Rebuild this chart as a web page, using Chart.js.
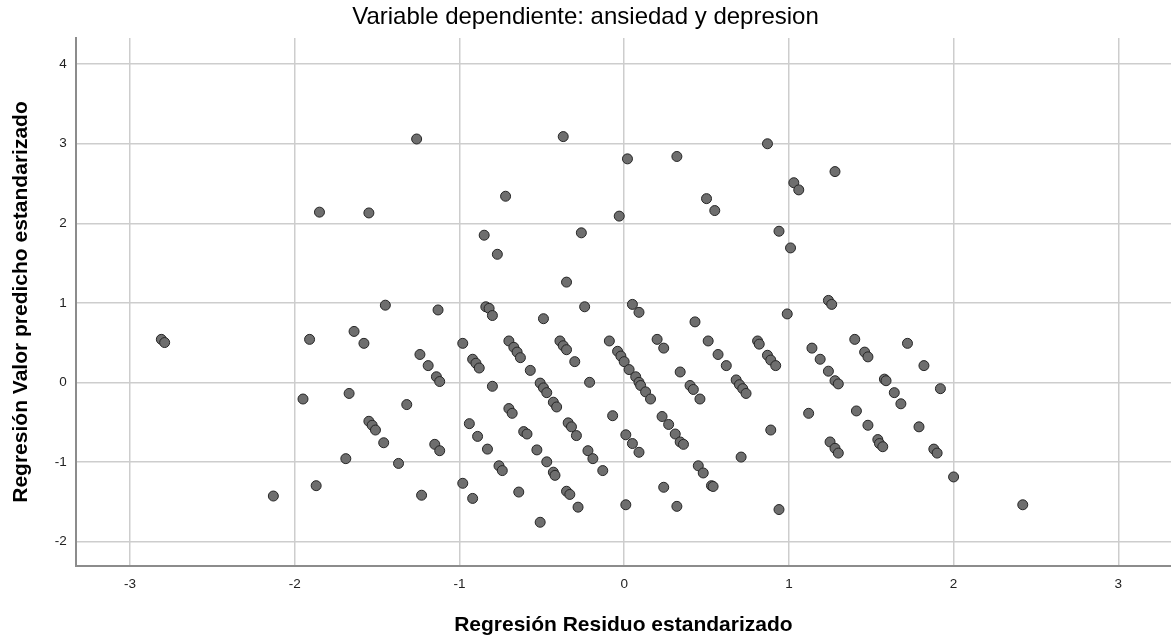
<!DOCTYPE html>
<html>
<head>
<meta charset="utf-8">
<title>Variable dependiente: ansiedad y depresion</title>
<script src="https://cdn.jsdelivr.net/npm/chart.js@4.4.1/dist/chart.umd.min.js"></script>
<style>
    html, body { margin: 0; padding: 0; background: #ffffff; }
    #wrap { width: 1171px; height: 641px; position: relative; }
</style>
</head>
<body>
<div id="wrap"><canvas id="scatterChart"></canvas></div>
<script>
// Regression scatter: standardized residual (x) vs standardized predicted value (y)

const chartTitle = 'Variable dependiente: ansiedad y depresion';
const xTitle = 'Regresión Residuo estandarizado';
const yTitle = 'Regresión Valor predicho estandarizado';

const xTicks = [-3, -2, -1, 0, 1, 2, 3];
const yTicks = [-2, -1, 0, 1, 2, 3, 4];

// standardized residuals
const residuals = [
    -1.26, -0.37, 0.02, 0.32, -0.72, -1.55, -1.85, -0.03, -0.85, -0.26,
    -0.77, -0.35, 0.87, 1.28, 1.03, 1.06, 0.50, 0.55, 0.94, 1.01,
    -2.81, -2.79, -2.13,
    -1.45, -1.13, -1.91, -1.64, -1.58, -1.24, -1.19, -1.14, -1.12, -1.95,
    -1.67, -1.32, -1.55, -1.53, -1.51, -1.46, -1.15, -1.12, -1.69, -1.37,
    -1.87, -1.23,
    -0.84, -0.82, -0.80, -0.24, -0.49, 0.05, -0.98, -0.92, -0.90, -0.88,
    -0.70, -0.67, -0.65, -0.63, -0.39, -0.37, -0.35, -0.30, -0.09, -0.04,
    -0.02, 0.00, 0.03, 0.07, 0.09, -0.57, -0.80, -0.21, -0.51, -0.49,
    -0.47, -0.43, -0.41, -0.70, -0.68, -0.07, -0.94, -0.89, -0.83, -0.61,
    -0.59, -0.34, -0.32, -0.29, -0.53, -0.47, -0.43, -0.42, -0.22, -0.19,
    -0.13, -0.76, -0.74, -0.98, -0.92, -0.64, -0.35, -0.33, -0.28, -0.51,
    0.01,
    0.09, 0.43, 0.99, 0.20, 0.24, 0.51, 0.57, 0.62, 0.81, 0.82,
    0.87, 0.89, 0.92, 1.14, 0.10, 0.13, 0.16, 0.34, 0.40, 0.42,
    0.46, 0.68, 0.70, 0.72, 0.74, 0.23, 0.27, 0.31, 0.34, 0.36,
    0.01, 0.05, 0.09, 0.45, 0.48, 0.53, 0.54, 0.71, 0.89, 1.12,
    0.24, 0.32, 0.94,
    1.24, 1.26, 1.19, 1.24, 1.28, 1.30, 1.40, 1.46, 1.48, 1.72,
    1.82, 1.58, 1.59, 1.64, 1.68, 1.92, 1.41, 1.48, 1.54, 1.55,
    1.57, 1.79, 1.25, 1.28, 1.30, 1.88, 1.90, 2.00, 2.42
];

// standardized predicted values
const predicted = [
    3.06, 3.09, 2.81, 2.84, 2.34, 2.13, 2.14, 2.09, 1.85, 1.88,
    1.61, 1.26, 3.00, 2.65, 2.51, 2.42, 2.31, 2.16, 1.90, 1.69,
    0.54, 0.50, -1.43,
    0.97, 0.91, 0.54, 0.64, 0.49, 0.35, 0.21, 0.07, 0.01, -0.21,
    -0.14, -0.28, -0.49, -0.54, -0.60, -0.76, -0.78, -0.86, -0.96, -1.02,
    -1.30, -1.42,
    0.95, 0.93, 0.84, 0.95, 0.80, 0.98, 0.49, 0.29, 0.24, 0.18,
    0.52, 0.44, 0.38, 0.31, 0.52, 0.46, 0.41, 0.26, 0.52, 0.39,
    0.33, 0.26, 0.16, 0.07, 0.00, 0.15, -0.05, 0.00, -0.01, -0.07,
    -0.13, -0.25, -0.31, -0.33, -0.39, -0.42, -0.52, -0.68, -0.84, -0.62,
    -0.65, -0.51, -0.56, -0.67, -0.85, -1.00, -1.13, -1.17, -0.86, -0.96,
    -1.11, -1.05, -1.11, -1.27, -1.46, -1.38, -1.37, -1.41, -1.57, -1.76,
    -1.54,
    0.88, 0.76, 0.86, 0.54, 0.43, 0.52, 0.35, 0.21, 0.52, 0.48,
    0.34, 0.28, 0.21, 0.43, -0.04, -0.12, -0.21, 0.13, -0.04, -0.09,
    -0.21, 0.03, -0.03, -0.08, -0.14, -0.43, -0.53, -0.65, -0.75, -0.78,
    -0.66, -0.77, -0.88, -1.05, -1.14, -1.30, -1.31, -0.94, -0.60, -0.39,
    -1.32, -1.56, -1.60,
    1.03, 0.98, 0.29, 0.14, 0.02, -0.02, 0.54, 0.38, 0.32, 0.49,
    0.21, 0.04, 0.02, -0.13, -0.27, -0.08, -0.36, -0.54, -0.72, -0.77,
    -0.81, -0.56, -0.75, -0.83, -0.89, -0.84, -0.89, -1.19, -1.54
];

const points = residuals.map((x, i) => ({ x: x, y: predicted[i] }));

const gridColor = '#cdcdcd';
const axisColor = '#8c8c8c';

new Chart(document.getElementById('scatterChart').getContext('2d'), {
    type: 'scatter',
    data: {
        datasets: [{
            label: 'casos',
            data: points,
            backgroundColor: '#6e6e6e',
            borderColor: '#262626',
            borderWidth: 1,
            pointRadius: 5,
            pointHoverRadius: 5
        }]
    },
    options: {
        responsive: true,
        maintainAspectRatio: false,
        animation: false,
        layout: { padding: 0, autoPadding: false },
        plugins: {
            legend: { display: false },
            tooltip: { enabled: false },
            title: {
                display: true,
                text: chartTitle,
                color: '#000000',
                font: { family: 'Liberation Sans', size: 24, weight: 'normal' },
                padding: { top: 3.4, bottom: 5.8 }
            }
        },
        scales: {
            x: {
                type: 'linear',
                min: -3.33,
                max: 3.32,
                afterBuildTicks: (scale) => { scale.ticks = xTicks.map(v => ({ value: v })); },
                afterFit: (scale) => {
                    scale.height = 75;
                    scale.paddingLeft = 0;
                    scale.paddingRight = 0;
                },
                grid: { color: gridColor, lineWidth: 1.5, drawTicks: false },
                border: { display: true, color: axisColor, width: 2 },
                ticks: {
                    color: '#222222',
                    font: { family: 'Liberation Sans', size: 13.5 },
                    padding: 10
                },
                title: {
                    display: true,
                    text: xTitle,
                    color: '#000000',
                    font: { family: 'Liberation Sans', size: 21, weight: 'bold' },
                    padding: { top: 0, bottom: 3.4 }
                }
            },
            y: {
                type: 'linear',
                min: -2.31,
                max: 4.33,
                afterBuildTicks: (scale) => { scale.ticks = yTicks.map(v => ({ value: v })); },
                afterFit: (scale) => {
                    scale.width = 75.7;
                    scale.paddingTop = 0;
                    scale.paddingBottom = 0;
                },
                grid: { color: gridColor, lineWidth: 1.5, drawTicks: false },
                border: { display: true, color: axisColor, width: 2 },
                ticks: {
                    color: '#222222',
                    font: { family: 'Liberation Sans', size: 13.5 },
                    padding: 9
                },
                title: {
                    display: true,
                    text: yTitle,
                    color: '#000000',
                    font: { family: 'Liberation Sans', size: 21, weight: 'bold' },
                    padding: { top: 8.4, bottom: 0 }
                }
            }
        }
    }
});
</script>
</body>
</html>
